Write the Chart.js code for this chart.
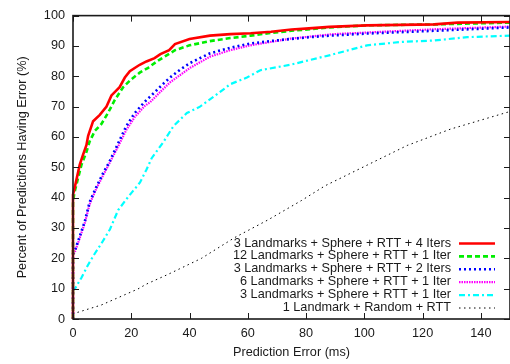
<!DOCTYPE html>
<html>
<head>
<meta charset="utf-8">
<script src="https://cdn.jsdelivr.net/npm/chart.js@4.4.1/dist/chart.umd.min.js"></script>
<style>
  html, body { margin: 0; padding: 0; background: #fff; }
  #wrap { width: 510px; height: 364px; position: relative; }
</style>
</head>
<body>
<div id="wrap"><canvas id="cdf"></canvas></div>
<script>
// series values (x = error in ms, y = percent)
const seriesLabels = [
  '3 Landmarks + Sphere + RTT + 4 Iters',
  '12 Landmarks + Sphere + RTT + 1 Iter',
  '3 Landmarks + Sphere + RTT + 2 Iters',
  '6 Landmarks + Sphere + RTT + 1 Iter',
  '3 Landmarks + Sphere + RTT + 1 Iter',
  '1 Landmark + Random + RTT'
];

const lm3it4X = [0, 0, 0.6, 2.3, 3.4, 4.6, 5.2, 6.9, 9.2, 11.5, 13.2, 16, 17.8, 19.5, 22.9, 25.2, 28, 30, 33, 35, 40, 47, 54, 61, 68, 75, 81, 88, 101, 124, 132, 150];
const lm3it4Y = [0, 41, 43.4, 50.8, 54, 57.3, 60.4, 65.2, 67.3, 70, 73.7, 76.4, 79.6, 81.7, 83.8, 84.9, 86, 87.3, 88.6, 90.6, 92.3, 93.4, 93.9, 94.2, 94.7, 95.4, 95.8, 96.3, 96.8, 97.1, 97.7, 97.9];

const lm12it1X = [0, 0, 0.4, 1.5, 2.9, 4.6, 5.7, 7.5, 9.7, 12, 14.3, 17.2, 20, 22.9, 25.8, 29.2, 32, 35, 40, 47, 54, 61, 68, 75, 88, 101, 124, 150];
const lm12it1Y = [0, 38, 41.3, 45.5, 50.8, 55, 58.5, 62, 64.2, 67.9, 72.1, 76.4, 79, 81.2, 82.8, 85.2, 86.8, 88.6, 90.2, 91.6, 92.6, 93.4, 94.3, 95, 96.1, 96.8, 97.1, 97.7];

const lm3it2X = [0, 0, 0.6, 1.7, 4, 5.7, 8, 10.3, 12.6, 14.9, 18.3, 21.2, 24.6, 28.1, 31.5, 33.3, 36.8, 40.2, 43.6, 47.1, 54, 60.8, 67.7, 74.6, 81.4, 88.3, 101, 124, 150];
const lm3it2Y = [0, 21.5, 22.5, 25.5, 32, 38.5, 43.5, 48, 52, 56.7, 63.6, 67.9, 71.6, 74.8, 78, 79.6, 82.2, 84.4, 86, 87.6, 89.4, 90.8, 91.6, 92.3, 92.9, 93.4, 94.1, 95, 96.1];

const lm6it1X = [0, 0, 0.6, 1.7, 4, 5.7, 8, 10.3, 12.6, 14.9, 18.3, 21.2, 24.6, 26.5, 29.9, 33.3, 40.2, 47.1, 54, 60.8, 74.6, 89.4, 124, 150];
const lm6it1Y = [0, 21, 22, 25, 31.5, 37.8, 43, 47.3, 51.5, 55.8, 62.3, 66.6, 70.2, 71.5, 74.8, 78, 82.8, 86.5, 88.6, 90.2, 92.4, 93.9, 95.5, 96.4];

const lm3it1X = [0, 0, 0.6, 2.9, 5.2, 7.5, 9.7, 12.7, 15.5, 18.9, 20.7, 23, 25.2, 27, 31, 34.5, 39.1, 43.6, 48.2, 54, 59.7, 64.3, 74.6, 81.4, 88.3, 100.9, 112.4, 123.8, 135.3, 150];
const lm3it1Y = [0, 9.5, 9.9, 13.6, 17.9, 21.6, 24.8, 29.6, 35.9, 40.2, 42.3, 45, 49.2, 53, 58.3, 63.6, 67.9, 70, 73.2, 77.4, 79.6, 82, 83.8, 85.4, 87, 90.2, 91.3, 91.8, 92.9, 93.4];

const randomX = [0, 0.6, 9.7, 22.3, 25.2, 32.6, 44.1, 55.6, 67, 78.5, 86.5, 114.7, 129.6, 150];
const randomY = [1.5, 1.9, 4.6, 9.9, 11.5, 14.7, 20, 26.9, 32.7, 39.1, 43.9, 57.2, 62.6, 68.4];

const xTicks = [0, 20, 40, 60, 80, 100, 120, 140];
const yTicks = [0, 10, 20, 30, 40, 50, 60, 70, 80, 90, 100];

const FONT = '"Liberation Sans", Arial, sans-serif';
const INK = '#1a1a1a';

function pairUp (xs, ys) {
  return xs.map((x, i) => ({ x: x, y: ys[i] }));
}

// gnuplot-ish styles for each curve
const styles = [
  { color: '#ff0000', width: 2.6, dash: [] },
  { color: '#00ee00', width: 2.6, dash: [5, 3] },
  { color: '#0000ff', width: 2.6, dash: [2, 3] },
  { color: '#ff00ff', width: 2.2, dash: [1.5, 1] },
  { color: '#00ffff', width: 2.2, dash: [6, 3, 2, 3] },
  { color: '#000000', width: 1, dash: [1.5, 3.5] }
];
const pointSets = [
  pairUp(lm3it4X, lm3it4Y),
  pairUp(lm12it1X, lm12it1Y),
  pairUp(lm3it2X, lm3it2Y),
  pairUp(lm6it1X, lm6it1Y),
  pairUp(lm3it1X, lm3it1Y),
  pairUp(randomX, randomY)
];

// frame + inward ticks on all four sides, and the legend in the lower right
const framePlugin = {
  id: 'frame',
  afterDatasetsDraw (chart) {
    const { ctx, chartArea: a, scales } = chart;
    ctx.save();
    ctx.strokeStyle = INK;
    ctx.lineWidth = 1;
    ctx.beginPath();
    xTicks.forEach(v => {
      const px = Math.round(scales.x.getPixelForValue(v)) + 0.5;
      ctx.moveTo(px, a.bottom); ctx.lineTo(px, a.bottom - 6);
      ctx.moveTo(px, a.top); ctx.lineTo(px, a.top + 6);
    });
    yTicks.forEach(v => {
      const py = Math.round(scales.y.getPixelForValue(v)) + 0.5;
      ctx.moveTo(a.left, py); ctx.lineTo(a.left + 6, py);
      ctx.moveTo(a.right, py); ctx.lineTo(a.right - 6, py);
    });
    ctx.stroke();
    ctx.lineWidth = 1.6;
    ctx.strokeRect(a.left, a.top, a.right - a.left, a.bottom - a.top);

    // legend
    ctx.font = '12.7px ' + FONT;
    ctx.textAlign = 'right';
    ctx.textBaseline = 'middle';
    chart.data.datasets.forEach((ds, i) => {
      const y = a.bottom - 76 + i * 12.9;
      ctx.fillStyle = INK;
      ctx.fillText(ds.label, a.right - 59, y);
      ctx.strokeStyle = ds.borderColor;
      ctx.lineWidth = ds.borderWidth;
      ctx.setLineDash(ds.borderDash);
      ctx.beginPath();
      ctx.moveTo(a.right - 51, y + 0.5);
      ctx.lineTo(a.right - 15, y + 0.5);
      ctx.stroke();
      ctx.setLineDash([]);
    });
    ctx.restore();
  }
};

const config = {
  type: 'scatter',
  data: {
    datasets: pointSets.map((pts, i) => ({
      label: seriesLabels[i],
      data: pts,
      showLine: true,
      borderColor: styles[i].color,
      backgroundColor: styles[i].color,
      borderWidth: styles[i].width,
      borderDash: styles[i].dash,
      pointRadius: 0,
      tension: 0,
      clip: 4
    }))
  },
  options: {
    responsive: false,
    animation: false,
    devicePixelRatio: 1,
    layout: { padding: { top: 6, right: 0, left: 0, bottom: 0 } },
    plugins: { legend: { display: false }, tooltip: { enabled: false } },
    scales: {
      x: {
        type: 'linear',
        min: 0,
        max: 150,
        grid: { display: false, drawTicks: false },
        border: { display: false },
        ticks: { stepSize: 20, padding: 7, color: INK, font: { family: FONT, size: 12.7 }, maxRotation: 0 },
        afterBuildTicks: s => { s.ticks = xTicks.map(v => ({ value: v })); },
        afterFit: s => { s.height = 45; s.paddingLeft = 0; s.paddingRight = 0; },
        title: { display: true, text: 'Prediction Error (ms)', color: INK, font: { family: FONT, size: 12.7 }, padding: { top: 0, bottom: 4 } }
      },
      y: {
        min: 0,
        max: 100,
        grid: { display: false, drawTicks: false },
        border: { display: false },
        ticks: { stepSize: 10, padding: 8, color: INK, font: { family: FONT, size: 12.7 } },
        afterBuildTicks: s => { s.ticks = yTicks.map(v => ({ value: v })); },
        afterFit: s => { s.width = 73; },
        title: { display: true, text: 'Percent of Predictions Having Error (%)', color: INK, font: { family: FONT, size: 12.7 }, padding: { top: 15, bottom: 0 } }
      }
    }
  },
  plugins: [framePlugin]
};

const canvas = document.getElementById('cdf');
canvas.width = 510;
canvas.height = 364;
new Chart(canvas.getContext('2d'), config);
</script>
</body>
</html>
